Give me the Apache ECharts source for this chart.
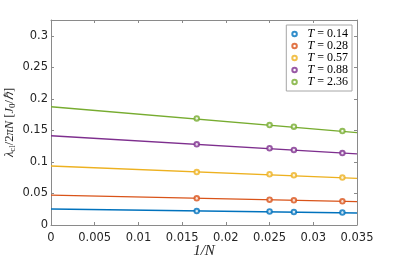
<!DOCTYPE html>
<html><head><meta charset="utf-8">
<script src="https://cdn.jsdelivr.net/npm/echarts@6/dist/echarts.min.js"></script>
<style>html,body{margin:0;padding:0;background:#fff}#c{width:395px;height:263px}</style>
</head><body><div id="c"></div>
<script>
// Data
var invN = [0.01667, 0.025, 0.02778, 0.03333];
var temps = ['0.14', '0.28', '0.57', '0.88', '2.36'];
var ptsT014 = [0.0222, 0.0214, 0.0206, 0.0197];
var ptsT028 = [0.0423, 0.0401, 0.0391, 0.0376];
var ptsT057 = [0.0840, 0.0803, 0.0787, 0.0752];
var ptsT088 = [0.1280, 0.1215, 0.1189, 0.1141];
var ptsT236 = [0.1690, 0.1585, 0.1558, 0.1490];
var fitX = [0, 0.035];
var fitT014 = [0.0254, 0.0190];
var fitT028 = [0.0475, 0.0370];
var fitT057 = [0.0935, 0.0740];
var fitT088 = [0.1415, 0.1128];
var fitT236 = [0.1875, 0.1465];
var xTicks = [0, 0.005, 0.01, 0.015, 0.02, 0.025, 0.03, 0.035];
var yTicks = [0, 0.05, 0.1, 0.15, 0.2, 0.25, 0.3];

var colors = ['#0072BD', '#D95319', '#EDB120', '#7E2F8E', '#77AC30'];
var pts = [ptsT014, ptsT028, ptsT057, ptsT088, ptsT236];
var fits = [fitT014, fitT028, fitT057, fitT088, fitT236];
var axisCol = '#8a8a8a';
var labCol = '#262626';
var sansFont = 'DejaVu Sans';
var serif = 'Liberation Serif';

var series = [];
var legendNames = [];
temps.forEach(function (t, i) {
  series.push({
    type: 'line', silent: true, symbol: 'none',
    data: fitX.map(function (x, k) { return [x, fits[i][k]]; }),
    lineStyle: { color: colors[i], width: 1.3 }, z: 2
  });
});
temps.forEach(function (t, i) {
  var nm = 'T = ' + t;
  legendNames.push(nm);
  series.push({
    name: nm, type: 'scatter', symbol: 'emptyCircle', symbolSize: 4.5,
    data: invN.map(function (x, k) { return [x, pts[i][k]]; }),
    itemStyle: { color: colors[i], borderColor: colors[i], borderWidth: 1 }, z: 3
  });
});

var chart = echarts.init(document.getElementById('c'), null, { renderer: 'canvas' });
chart.setOption({
  animation: false,
  backgroundColor: '#fff',
  grid: { left: 51, right: 38, top: 20, bottom: 38, containLabel: false, outerBoundsMode: 'none' },
  legend: {
    data: legendNames, orient: 'vertical', right: 43, top: 25,
    backgroundColor: '#fff', borderColor: '#a6a6a6', borderWidth: 1, borderRadius: 0,
    padding: [3, 4, 3, 5], itemGap: 0, itemWidth: 16, itemHeight: 4.5,
    icon: 'emptyCircle',
    itemStyle: { borderWidth: 1 },
    formatter: function (n) { return '{i|T} = ' + n.slice(4); },
    textStyle: {
      fontFamily: serif, fontSize: 12, color: '#000', lineHeight: 12,
      rich: { i: { fontFamily: serif, fontStyle: 'italic', fontSize: 12, lineHeight: 12 } }
    }
  },
  xAxis: [{
    type: 'value', min: 0, max: 0.035, interval: 0.005,
    name: '1/N', nameLocation: 'middle', nameGap: 19, nameMoveOverlap: false,
    nameTextStyle: { fontFamily: serif, fontSize: 15, fontStyle: 'italic', color: labCol },
    axisLine: { show: true, onZero: false, lineStyle: { color: axisCol, width: 1 } },
    axisTick: { show: true, inside: true, length: 3, lineStyle: { color: axisCol } },
    axisLabel: { fontFamily: sansFont, fontSize: 11.5, color: labCol, margin: 7,
      formatter: function (v) { return xTicks.indexOf(+v.toFixed(3)) >= 0 ? String(+v.toFixed(3)) : ''; } },
    splitLine: { show: false }
  }, {
    type: 'value', position: 'top', min: 0, max: 0.035, interval: 0.005,
    axisLine: { show: true, onZero: false, lineStyle: { color: axisCol, width: 1 } },
    axisTick: { show: true, inside: true, length: 3, lineStyle: { color: axisCol } },
    axisLabel: { show: false }, splitLine: { show: false }
  }],
  yAxis: [{
    type: 'value', min: 0, max: 0.325, interval: 0.05,
    name: '{i|λ}{s|cl}{n|/2}{i|πN} {n|[}{i|J}{s|0}{n|/}{i|ℏ}{n|]}',
    nameLocation: 'middle', nameGap: 34, nameRotate: 90, nameMoveOverlap: false,
    nameTextStyle: {
      color: labCol, fontFamily: serif, fontSize: 12.5,
      rich: {
        i: { fontFamily: serif, fontStyle: 'italic', fontSize: 12.5, color: labCol },
        n: { fontFamily: serif, fontSize: 12.5, color: labCol },
        s: { fontFamily: serif, fontSize: 9, color: labCol, verticalAlign: 'bottom', padding: [6, 0, 0, 0] }
      }
    },
    axisLine: { show: true, onZero: false, lineStyle: { color: axisCol, width: 1 } },
    axisTick: { show: true, inside: true, length: 3, lineStyle: { color: axisCol } },
    axisLabel: { fontFamily: sansFont, fontSize: 11.5, color: labCol, margin: 3, showMaxLabel: false,
      formatter: function (v) { var r = +v.toFixed(3); return yTicks.indexOf(r) >= 0 ? String(r) : ''; } },
    splitLine: { show: false }
  }, {
    type: 'value', position: 'right', min: 0, max: 0.325, interval: 0.05,
    axisLine: { show: true, onZero: false, lineStyle: { color: axisCol, width: 1 } },
    axisTick: { show: true, inside: true, length: 3, lineStyle: { color: axisCol } },
    axisLabel: { show: false }, splitLine: { show: false }
  }],
  series: series
});
</script></body></html>
